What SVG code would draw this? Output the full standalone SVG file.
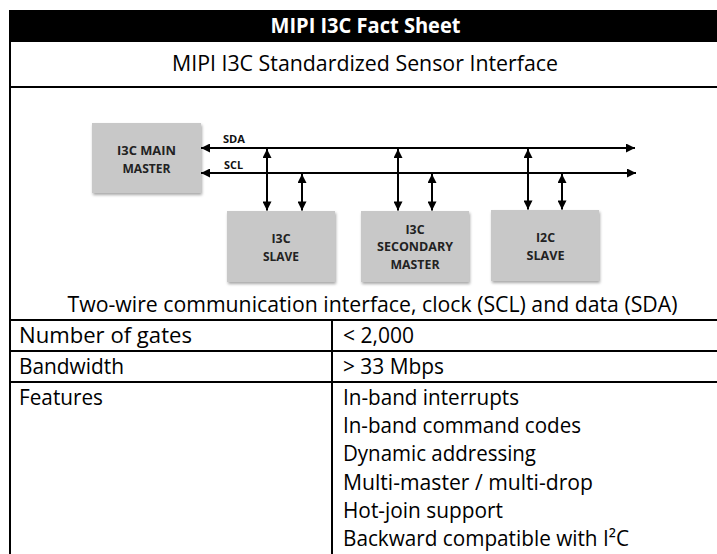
<svg xmlns="http://www.w3.org/2000/svg" width="717" height="554" viewBox="0 0 717 554">
<style>
.t{font-family:"Open Sans","Liberation Sans",sans-serif;font-size:21px;fill:#000}
.h{font-family:"Open Sans","Liberation Sans",sans-serif;font-size:21px;font-weight:bold;fill:#fff}
.b{font-family:"Open Sans","Liberation Sans",sans-serif;font-size:13px;font-weight:bold;fill:#222;text-anchor:middle}
.s{font-family:"Open Sans","Liberation Sans",sans-serif;font-size:10px;font-weight:bold;fill:#111}
.g{stroke:#000;stroke-width:2;fill:none}
.w{stroke:#000;stroke-width:2;fill:none;marker-start:url(#ah);marker-end:url(#ah)}
.box{fill:#c8c8c8;filter:url(#sh)}
</style>
<defs>
<marker id="ah" viewBox="0 0 10 10" refX="10" refY="5" markerWidth="10" markerHeight="9" markerUnits="userSpaceOnUse" orient="auto-start-reverse">
<path d="M0,0 L10,5 L0,10 z" fill="#000"/>
</marker>
<filter id="sh" x="-10%" y="-10%" width="125%" height="130%">
<feGaussianBlur in="SourceAlpha" stdDeviation="1.5"/>
<feOffset dx="1" dy="2" result="o"/>
<feComponentTransfer><feFuncA type="linear" slope="0.35"/></feComponentTransfer>
<feMerge><feMergeNode/><feMergeNode in="SourceGraphic"/></feMerge>
</filter>
</defs>
<rect width="717" height="554" fill="#fff"/>
<g id="table">
<rect x="10" y="10" width="720" height="32" fill="#000"/>
<text class="h" x="365.5" y="33" text-anchor="middle" textLength="190" lengthAdjust="spacingAndGlyphs">MIPI I3C Fact Sheet</text>
<text class="t" x="365" y="71" text-anchor="middle" textLength="386" lengthAdjust="spacingAndGlyphs">MIPI I3C Standardized Sensor Interface</text>
<line class="g" x1="10" y1="10" x2="10" y2="554"/>
<line class="g" x1="10" y1="87" x2="717" y2="87"/>
<text class="t" x="372.5" y="312" text-anchor="middle" textLength="610" lengthAdjust="spacingAndGlyphs">Two-wire communication interface, clock (SCL) and data (SDA)</text>
<line class="g" x1="10" y1="320" x2="717" y2="320"/>
<line class="g" x1="10" y1="351" x2="717" y2="351"/>
<line class="g" x1="10" y1="382" x2="717" y2="382"/>
<line class="g" x1="332" y1="320" x2="332" y2="554"/>
<text class="t" x="19" y="342.5" textLength="173" lengthAdjust="spacingAndGlyphs">Number of gates</text>
<text class="t" x="19" y="373.5" textLength="105" lengthAdjust="spacingAndGlyphs">Bandwidth</text>
<text class="t" x="19" y="404.5" textLength="84" lengthAdjust="spacingAndGlyphs">Features</text>
<text class="t" x="343" y="342.5" textLength="71" lengthAdjust="spacingAndGlyphs">&lt; 2,000</text>
<text class="t" x="343" y="373.5" textLength="101" lengthAdjust="spacingAndGlyphs">&gt; 33 Mbps</text>
<text class="t" x="343" y="404.5" textLength="176" lengthAdjust="spacingAndGlyphs">In-band interrupts</text>
<text class="t" x="343" y="433" textLength="238" lengthAdjust="spacingAndGlyphs">In-band command codes</text>
<text class="t" x="343" y="461" textLength="193" lengthAdjust="spacingAndGlyphs">Dynamic addressing</text>
<text class="t" x="343" y="489.5" textLength="250" lengthAdjust="spacingAndGlyphs">Multi-master / multi-drop</text>
<text class="t" x="343" y="518" textLength="160" lengthAdjust="spacingAndGlyphs">Hot-join support</text>
<text class="t" x="343" y="546" textLength="286" lengthAdjust="spacingAndGlyphs">Backward compatible with I²C</text>
</g>
<g id="main-master">
<rect class="box" x="92" y="123" width="109" height="70"/>
<text class="b" x="146.5" y="155" textLength="59" lengthAdjust="spacingAndGlyphs">I3C MAIN</text>
<text class="b" x="146.5" y="172.5" textLength="48" lengthAdjust="spacingAndGlyphs">MASTER</text>
</g>
<g id="i3c-slave">
<rect class="box" x="227" y="211" width="108" height="71"/>
<text class="b" x="281" y="242.5" textLength="19" lengthAdjust="spacingAndGlyphs">I3C</text>
<text class="b" x="281" y="260.5" textLength="36" lengthAdjust="spacingAndGlyphs">SLAVE</text>
</g>
<g id="secondary-master">
<rect class="box" x="361" y="211" width="108" height="71"/>
<text class="b" x="415" y="233.5" textLength="19" lengthAdjust="spacingAndGlyphs">I3C</text>
<text class="b" x="415" y="251" textLength="76" lengthAdjust="spacingAndGlyphs">SECONDARY</text>
<text class="b" x="415" y="269" textLength="49" lengthAdjust="spacingAndGlyphs">MASTER</text>
</g>
<g id="i2c-slave">
<rect class="box" x="491" y="210" width="108" height="71"/>
<text class="b" x="545.5" y="242" textLength="19" lengthAdjust="spacingAndGlyphs">I2C</text>
<text class="b" x="545.5" y="259.5" textLength="38" lengthAdjust="spacingAndGlyphs">SLAVE</text>
</g>
<g id="connectors">
<line class="w" x1="201" y1="148" x2="635" y2="148"/>
<line class="w" x1="201" y1="173" x2="636" y2="173"/>
<text class="s" x="223" y="143" textLength="22" lengthAdjust="spacingAndGlyphs">SDA</text>
<text class="s" x="224" y="168.5" textLength="19" lengthAdjust="spacingAndGlyphs">SCL</text>
<line class="w" x1="267" y1="149" x2="267" y2="210.5"/>
<line class="w" x1="302" y1="174" x2="302" y2="210.5"/>
<line class="w" x1="398" y1="149" x2="398" y2="210.5"/>
<line class="w" x1="432" y1="174" x2="432" y2="210.5"/>
<line class="w" x1="528" y1="149" x2="528" y2="209.5"/>
<line class="w" x1="562" y1="174" x2="562" y2="209.5"/>
</g>
</svg>
